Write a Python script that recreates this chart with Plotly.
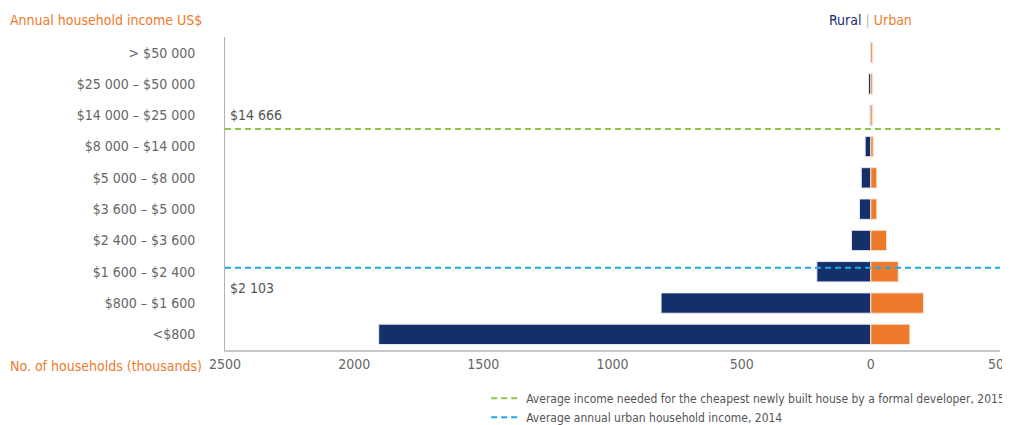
import plotly.graph_objects as go

categories = ["<$800", "$800 – $1 600", "$1 600 – $2 400", "$2 400 – $3 600",
              "$3 600 – $5 000", "$5 000 – $8 000", "$8 000 – $14 000",
              "$14 000 – $25 000", "$25 000 – $50 000", "> $50 000"]
bin_low = [0, 800, 1600, 2400, 3600, 5000, 8000, 14000, 25000, 50000]
bin_high = [800, 1600, 2400, 3600, 5000, 8000, 14000, 25000, 50000, 100000]
rural = [1905, 812, 209, 75, 44, 37, 22, 5, 9, 0]
urban = [151, 204, 106, 61, 23, 23, 9, 7, 7, 7]

x_ticks = [-2500, -2000, -1500, -1000, -500, 0, 500]
x_ticktext = ["2500", "2000", "1500", "1000", "500", "0", "500"]

ref_values = [14666, 2103]
ref_labels = ["$14 666", "$2 103"]
ref_names = ["Average income needed for the cheapest newly built house by a formal developer, 2015",
             "Average annual urban household income, 2014"]
ref_colors = ["#8DC63F", "#1BA9E8"]

NAVY = "#13306B"
ORANGE = "#EE7A2B"
GRAY = "#666666"
FONT = "Liberation Sans Narrow, DejaVu Sans Condensed, Arial Narrow, sans-serif"

idx = list(range(len(categories)))


def income_to_pos(v):
    for i, (lo, hi) in enumerate(zip(bin_low, bin_high)):
        if lo <= v < hi:
            return i - 0.5 + (v - lo) / (hi - lo)
    return len(categories) - 0.5


fig = go.Figure()
fig.add_trace(go.Bar(y=idx, x=[-v for v in rural], orientation="h",
                     marker=dict(color=NAVY, line=dict(color="#e8e8ee", width=1)),
                     width=0.65, showlegend=False, name="Rural"))
fig.add_trace(go.Bar(y=idx, x=urban, orientation="h",
                     marker=dict(color=ORANGE, line=dict(color="#f4e4d8", width=1)),
                     width=0.65, showlegend=False, name="Urban"))

for val, lab, name, col in zip(ref_values, ref_labels, ref_names, ref_colors):
    p = income_to_pos(val)
    fig.add_trace(go.Scatter(x=[x_ticks[0], x_ticks[-1]], y=[p, p], mode="lines",
                             line=dict(color=col, width=2, dash="6px,4px"),
                             name=name, showlegend=True, cliponaxis=False))

p1 = income_to_pos(ref_values[0])
p2 = income_to_pos(ref_values[1])
annotations = [
    dict(text="Annual household income US$", xref="paper", yref="paper",
         x=-0.28, y=1.054, xanchor="left", yanchor="middle", showarrow=False,
         font=dict(color=ORANGE, size=14, family=FONT)),
    dict(text="No. of households (thousands)", xref="paper", yref="paper",
         x=-0.28, y=-0.051, xanchor="left", yanchor="middle", showarrow=False,
         font=dict(color=ORANGE, size=14, family=FONT)),
    dict(text=f"<span style='color:{NAVY}'>Rural</span> <span style='color:#b8c0cc'>|</span> "
              f"<span style='color:{ORANGE}'>Urban</span>",
         xref="x", yref="paper", x=0, y=1.054, xanchor="center", yanchor="middle",
         showarrow=False, font=dict(size=14, family=FONT)),
    dict(text=ref_labels[0], xref="paper", yref="y", x=0.004, y=p1, yshift=14,
         xanchor="left", yanchor="middle", showarrow=False,
         font=dict(color="#555555", size=14, family=FONT)),
    dict(text=ref_labels[1], xref="paper", yref="y", x=0.004, y=p2, yshift=-20,
         xanchor="left", yanchor="middle", showarrow=False,
         font=dict(color="#555555", size=14, family=FONT)),
]

fig.update_layout(
    width=1010, height=425,
    margin=dict(l=217, r=18, t=29, b=83, autoexpand=False),
    barmode="relative",
    plot_bgcolor="white", paper_bgcolor="white",
    font=dict(family=FONT, color=GRAY, size=14),
    annotations=annotations,
    legend=dict(x=0.337, y=-0.108, xanchor="left", yanchor="top",
                font=dict(size=12, color="#555555", family=FONT),
                itemwidth=30, tracegroupgap=0, bgcolor="rgba(0,0,0,0)"),
)
fig.update_xaxes(range=[x_ticks[0], x_ticks[-1]], tickvals=x_ticks, ticktext=x_ticktext,
                 showgrid=False, zeroline=False, showline=True, linecolor="#c8c8c8",
                 linewidth=1.5, ticks="", tickfont=dict(size=14, color=GRAY))
fig.update_yaxes(range=[-0.5, len(categories) - 0.5], tickvals=idx, ticktext=categories,
                 showgrid=False, zeroline=False, showline=True, linecolor="#b0b0b0",
                 linewidth=1, ticks="", ticklabelstandoff=26,
                 tickfont=dict(size=14, color=GRAY))

fig.write_html("out.html")
